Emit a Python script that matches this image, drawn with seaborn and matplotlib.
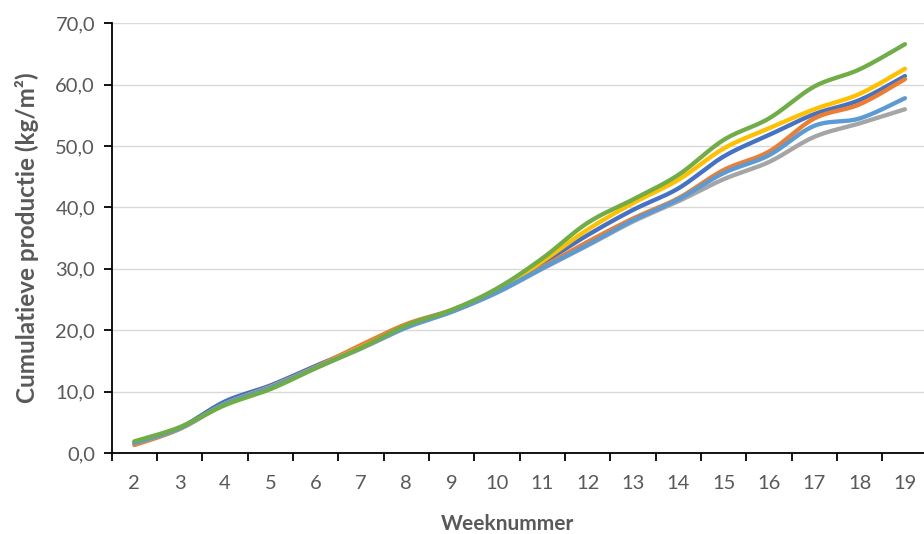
import numpy as np
import pandas as pd
import matplotlib
matplotlib.use("Agg")
import matplotlib.pyplot as plt
from matplotlib.ticker import FixedLocator, FuncFormatter
import seaborn as sns

# Week numbers on the category axis
weeks = [2, 3, 4, 5, 6, 7, 8, 9, 10, 11, 12, 13, 14, 15, 16, 17, 18, 19]

# Cumulative production per treatment (kg/m²)
serie_1 = [1.6, 4.1, 8.4, 11.0, 14.2, 17.3, 20.7, 23.2, 26.5, 30.9, 35.5, 39.6, 43.1, 48.3, 51.8, 55.2, 57.5, 61.4]
serie_2 = [1.3, 3.9, 8.0, 10.8, 14.0, 17.6, 21.0, 23.3, 26.4, 30.3, 34.4, 38.2, 41.5, 46.1, 49.1, 54.5, 56.8, 60.9]
serie_3 = [1.6, 4.0, 8.0, 10.7, 13.9, 17.0, 20.4, 23.0, 26.1, 30.0, 33.8, 37.7, 41.0, 44.6, 47.4, 51.5, 53.7, 56.0]
serie_4 = [1.6, 4.0, 8.0, 10.7, 13.9, 17.2, 20.7, 23.1, 26.6, 31.2, 36.4, 40.7, 44.5, 49.6, 52.9, 56.0, 58.5, 62.6]
serie_5 = [1.6, 4.0, 8.0, 10.7, 13.9, 17.1, 20.5, 23.0, 26.2, 30.1, 33.9, 37.9, 41.3, 45.6, 48.5, 53.3, 54.5, 57.8]
serie_6 = [1.9, 4.2, 7.8, 10.4, 13.8, 17.1, 20.8, 23.3, 26.8, 31.7, 37.5, 41.3, 45.3, 51.0, 54.5, 59.7, 62.5, 66.6]

series = {
    "Serie 1": serie_1,
    "Serie 2": serie_2,
    "Serie 3": serie_3,
    "Serie 4": serie_4,
    "Serie 5": serie_5,
    "Serie 6": serie_6,
}
colors = ["#4472C4", "#ED7D31", "#A5A5A5", "#FFC000", "#5B9BD5", "#70AD47"]


def smooth_path(xs, ys, steps=24):
    """Bezier path through every point (Catmull-Rom style control points)."""
    p = np.column_stack([xs, ys]).astype(float)
    n = len(p)
    out = [p[0]]
    t = np.linspace(0, 1, steps + 1)[1:][:, None]
    for i in range(n - 1):
        p0 = p[i - 1] if i > 0 else p[i]
        p1, p2 = p[i], p[i + 1]
        p3 = p[i + 2] if i + 2 < n else p[i + 1]
        c1 = p1 + (p2 - p0) / 6.0
        c2 = p2 - (p3 - p1) / 6.0
        seg = ((1 - t) ** 3) * p1 + 3 * ((1 - t) ** 2) * t * c1 + 3 * (1 - t) * t ** 2 * c2 + t ** 3 * p2
        out.extend(seg)
    out = np.array(out)
    return out[:, 0], out[:, 1]


xpos = np.arange(len(weeks))
frames = []
for name, vals in series.items():
    sx, sy = smooth_path(xpos, vals)
    frames.append(pd.DataFrame({"x": sx, "y": sy, "serie": name}))
df = pd.concat(frames, ignore_index=True)

sns.set_theme(style="white")
plt.rcParams["font.family"] = ["Lato", "DejaVu Sans"]

fig = plt.figure(figsize=(9.24, 5.34), dpi=100)
ax = fig.add_axes([111.7 / 924, 81 / 534, (927.6 - 111.7) / 924, (453 - 23.3) / 534])

sns.lineplot(
    data=df, x="x", y="y", hue="serie", palette=colors, sort=False,
    estimator=None, units="serie", linewidth=3.1, legend=False, ax=ax,
)
for ln in ax.get_lines():
    ln.set_solid_capstyle("round")
    ln.set_solid_joinstyle("round")

ax.set_xlim(-0.5, len(weeks) - 0.5)
ax.set_ylim(0, 70)

# horizontal gridlines
ax.set_yticks(np.arange(0, 71, 10))
ax.yaxis.grid(True, color="#D9D9D9", linewidth=1.0)
ax.xaxis.grid(False)
ax.set_axisbelow(True)

ax.yaxis.set_major_formatter(FuncFormatter(lambda v, _: f"{v:.1f}".replace(".", ",")))

# category labels at the centres, tick marks on the boundaries
ax.set_xticks(xpos)
ax.set_xticklabels([str(w) for w in weeks])
ax.xaxis.set_minor_locator(FixedLocator(np.arange(-0.5, len(weeks), 1.0)))
ax.tick_params(axis="x", which="major", length=0, pad=16, labelsize=14.5, labelcolor="#595959")
ax.tick_params(axis="x", which="minor", length=6, width=1.3, color="black", direction="out", bottom=True)
ax.tick_params(axis="y", which="major", length=6, width=1.3, color="black", direction="out",
               pad=6, labelsize=14.5, labelcolor="#595959", left=True)

for side in ["top", "right"]:
    ax.spines[side].set_visible(False)
for side in ["left", "bottom"]:
    ax.spines[side].set_color("black")
    ax.spines[side].set_linewidth(1.3)

ax.set_xlabel("Weeknummer", fontsize=15, fontweight="bold", color="#595959")
ax.set_ylabel("Cumulatieve productie (kg/m²)", fontsize=17.5, fontweight="bold", color="#595959")
ax.xaxis.set_label_coords((508 - 111.7) / 815.9, (453 - 530) / 429.7)
ax.xaxis.label.set_va("baseline")
ax.yaxis.set_label_coords((27 - 111.7) / 815.9, (453 - 238) / 429.7)
ax.yaxis.label.set_va("center")

fig.savefig("out.png", dpi=100)
